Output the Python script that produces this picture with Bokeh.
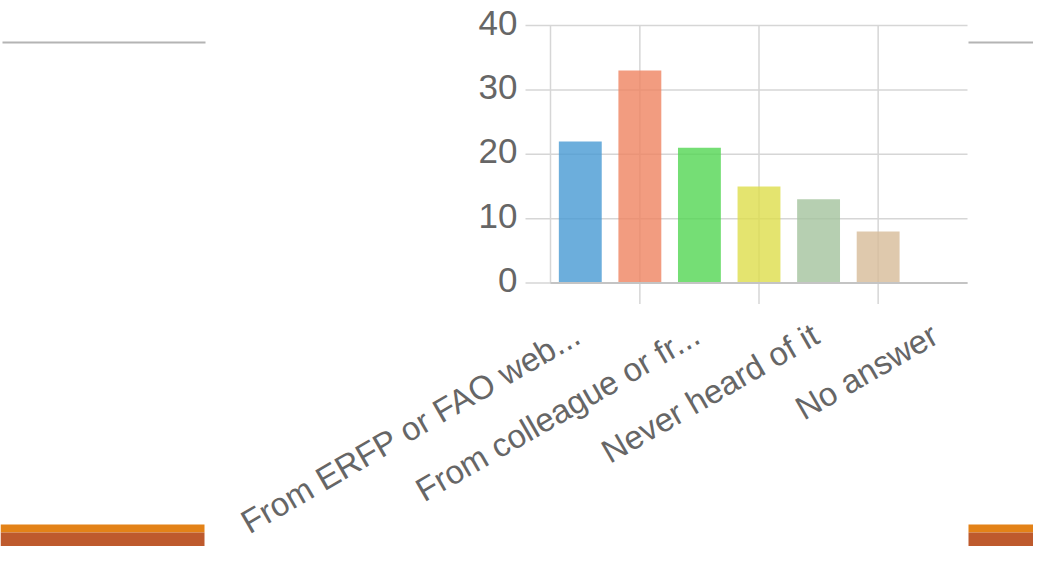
from bokeh.plotting import figure
from bokeh.models import Range1d
from bokeh.core.properties import value
from bokeh.embed import file_html
from bokeh.resources import INLINE

# ---- data ----
bar_positions = [1, 2, 3, 4, 5, 6]
values = [22, 33, 21, 15, 13, 8]
bar_colors = ["#479AD3", "#EF8360", "#52D652", "#DDDD4B", "#A4C39D", "#D7BB98"]
label_positions = [1, 3, 5, 7]
tick_labels = ["From ERFP or FAO web...", "From colleague or fr...", "Never heard of it", "No answer"]
y_ticks = [0, 10, 20, 30, 40]
y_tick_labels = ["0", "10", "20", "30", "40"]
grid_positions = [2, 4, 6]

FONT = "Liberation Sans"
TXT = "#666666"
GRID = "#d6d6d6"

# ---- layout (pixels) ----
W, H = 1033, 546
PL, PR = 550.0, 967.0      # plot area left/right
PT, PB = 25.0, 282.5       # plot area top/bottom
XMIN, XMAX = 0.5, 7.5
YMIN, YMAX = 0.0, 40.0
sx = (PR - PL) / (XMAX - XMIN)
sy = (PB - PT) / (YMAX - YMIN)

def dx(px):  # pixel x -> data x
    return XMIN + (px - PL) / sx

def dy(py):  # pixel y (from top) -> data y
    return YMIN + (PB - py) / sy

p = figure(width=W, height=H, output_backend="svg", toolbar_location=None,
           x_range=Range1d(dx(0), dx(W)), y_range=Range1d(dy(H), dy(0)),
           min_border=0)
p.axis.visible = False
p.grid.visible = False
p.outline_line_color = None
p.background_fill_color = "white"
p.border_fill_color = "white"

# horizontal grid lines (with tick extension to the left)
tick_x0 = dx(PL - 25)
p.segment(x0=[tick_x0] * len(y_ticks), x1=[XMAX] * len(y_ticks), y0=y_ticks, y1=y_ticks,
          line_color=GRID, line_width=1.5)
# vertical grid lines with tick marks below the axis
tick_y0 = dy(PB + 21)
p.segment(x0=grid_positions, x1=grid_positions, y0=[tick_y0] * len(grid_positions),
          y1=[YMAX] * len(grid_positions), line_color=GRID, line_width=1.5)
# left axis line
p.segment(x0=[XMIN], x1=[XMIN], y0=[YMIN], y1=[YMAX], line_color=GRID, line_width=1.5)

# bars
p.vbar(x=bar_positions, top=values, width=0.72, bottom=0,
       fill_color=bar_colors, fill_alpha=0.8, line_color=None)

# bottom axis line
p.segment(x0=[XMIN], x1=[XMAX], y0=[YMIN], y1=[YMIN], line_color="#c4c4c4", line_width=2)

# y tick labels
p.text(x=[dx(PL - 33)] * len(y_ticks), y=[t + 3 / sy for t in y_ticks], text=y_tick_labels,
       text_align="right", text_baseline="middle", text_font=value(FONT),
       text_font_size="35px", text_color=TXT)

# x tick labels (rotated)
p.text(x=[pos - 0.05 for pos in label_positions], y=[dy(PB + 49)] * len(label_positions),
       text=tick_labels, angle=30, angle_units="deg",
       text_align="right", text_baseline="middle", text_font=value(FONT),
       text_font_size="33px", text_color=TXT)

# slide decorations
def rect(l, r, t, b, color):
    p.quad(left=[dx(l)], right=[dx(r)], top=[dy(t)], bottom=[dy(b)],
           fill_color=color, line_color=None)

rect(2, 205, 41, 43, "#b4b4b4")
rect(968, 1049, 41, 43, "#b4b4b4")
rect(0, 204, 524, 532, "#E38217")
rect(0, 204, 532, 562, "#BE5A2D")
rect(968, 1049, 524, 532, "#E38217")
rect(968, 1049, 532, 562, "#BE5A2D")

open("out.html", "w").write(file_html(p, INLINE))
